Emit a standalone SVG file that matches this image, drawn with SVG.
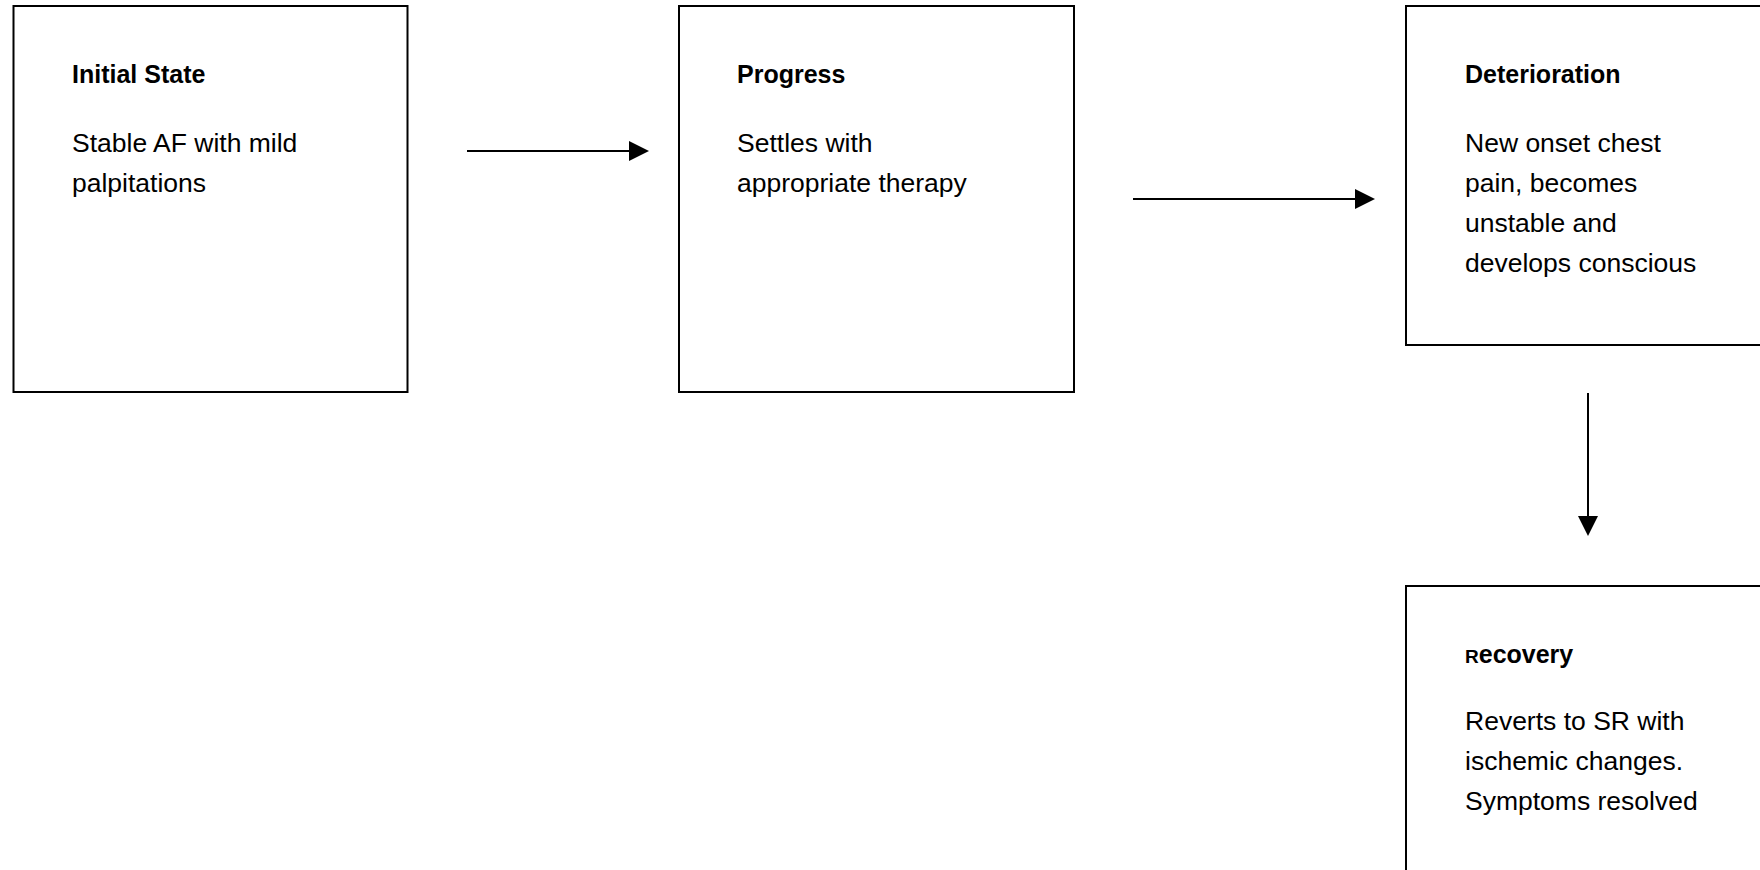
<svg xmlns="http://www.w3.org/2000/svg" width="1760" height="870" viewBox="0 0 1760 870">
<style>
.box{fill:#fff;stroke:#000;stroke-width:2}
.t{font-family:"Liberation Sans",Arial,sans-serif;font-weight:bold;font-size:25px;fill:#000}
.b{font-family:"Liberation Sans",Arial,sans-serif;font-size:26.5px;fill:#000}
.c{stroke:#000;stroke-width:2;fill:none}
</style>
<defs>
<marker id="ah" viewBox="0 0 20 20" refX="0" refY="10" markerWidth="20" markerHeight="20" markerUnits="userSpaceOnUse" orient="auto">
<path d="M0,0 L20,10 L0,20 Z" fill="#000"/>
</marker>
</defs>
<rect width="1760" height="870" fill="#fff"/>
<g id="connectors">
<line class="c" x1="467" y1="151" x2="629" y2="151" marker-end="url(#ah)"/>
<line class="c" x1="1133" y1="199" x2="1355" y2="199" marker-end="url(#ah)"/>
<line class="c" x1="1588" y1="393" x2="1588" y2="516" marker-end="url(#ah)"/>
</g>
<g id="initial">
<rect class="box" x="13.5" y="6" width="394" height="386"/>
<text class="t" x="72" y="83">Initial State</text>
<text class="b" x="72" y="151.5">Stable AF with mild</text>
<text class="b" x="72" y="191.5">palpitations</text>
</g>
<g id="progress">
<rect class="box" x="679" y="6" width="395" height="386"/>
<text class="t" x="737" y="83">Progress</text>
<text class="b" x="737" y="151.5">Settles with</text>
<text class="b" x="737" y="191.5">appropriate therapy</text>
</g>
<g id="deterioration">
<rect class="box" x="1406" y="6" width="400" height="339"/>
<text class="t" x="1465" y="83">Deterioration</text>
<text class="b" x="1465" y="151.5">New onset chest</text>
<text class="b" x="1465" y="191.5">pain, becomes</text>
<text class="b" x="1465" y="231.5">unstable and</text>
<text class="b" x="1465" y="272">develops conscious</text>
</g>
<g id="recovery">
<rect class="box" x="1406" y="586" width="400" height="320"/>
<text class="t" x="1465" y="663"><tspan font-size="19">R</tspan>ecovery</text>
<text class="b" x="1465" y="730">Reverts to SR with</text>
<text class="b" x="1465" y="770">ischemic changes.</text>
<text class="b" x="1465" y="810">Symptoms resolved</text>
</g>
</svg>
